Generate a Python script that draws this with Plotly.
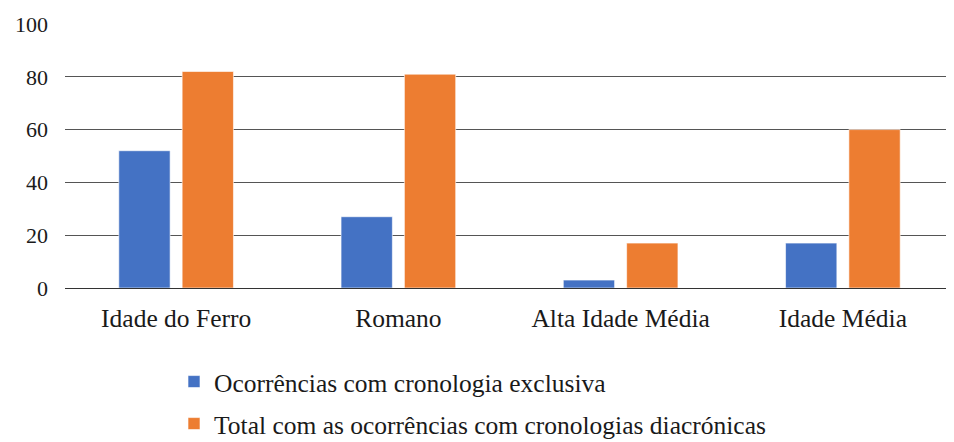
import plotly.graph_objects as go

categories = ["Idade do Ferro", "Romano", "Alta Idade Média", "Idade Média"]
exclusiva = [52, 27, 3, 17]
total = [82, 81, 17, 60]
series_names = ["Ocorrências com cronologia exclusiva",
                "Total com as ocorrências com cronologias diacrónicas"]
y_ticks = [0, 20, 40, 60, 80, 100]

FONT = "Liberation Serif"
TXT = "#1a1a1a"

fig = go.Figure()
fig.add_trace(go.Bar(x=categories, y=exclusiva, name=series_names[0],
                     marker=dict(color="#4472C4", line=dict(color="rgba(255,255,255,0.6)", width=1)),
                     legend="legend"))
fig.add_trace(go.Bar(x=categories, y=total, name=series_names[1],
                     marker=dict(color="#ED7D31", line=dict(color="rgba(255,255,255,0.6)", width=1)),
                     legend="legend2"))

# the page has an 8px body margin; compensate by shifting the figure geometry
OFF = 8
W, H = 954 - OFF, 442 - OFF
L = 65 - OFF
T = 24 - OFF
B = H - (288 - OFF)
plot_w = W - L
plot_h = 288 - 24

def ly(py):
    return (288 - py) / plot_h

def lx(px):
    return (px - 65) / plot_w

fig.update_layout(
    width=W, height=H,
    margin=dict(l=L, r=0, t=T, b=B, autoexpand=False),
    paper_bgcolor="white", plot_bgcolor="white",
    barmode="group", bargap=0.43, bargroupgap=0.19,
    font=dict(family=FONT, color=TXT, size=25.5),
    xaxis=dict(showgrid=False, showline=True, linecolor="#333", linewidth=1,
               ticks="", tickfont=dict(family=FONT, size=25.5, color=TXT),
               ticklabelstandoff=7),
    yaxis=dict(range=[0, 100], tickvals=y_ticks, showgrid=True, gridcolor="#555",
               gridwidth=1, zeroline=False, ticks="",
               tickfont=dict(family=FONT, size=22, color=TXT),
               ticklabelstandoff=16, showline=False),
    legend=dict(x=lx(174), y=ly(382), xanchor="left", yanchor="middle",
                font=dict(family=FONT, size=25.5, color=TXT), bgcolor="rgba(0,0,0,0)"),
    legend2=dict(x=lx(174), y=ly(424), xanchor="left", yanchor="middle",
                 font=dict(family=FONT, size=25.5, color=TXT), bgcolor="rgba(0,0,0,0)"),
    showlegend=True,
)

fig.write_html("out.html")
